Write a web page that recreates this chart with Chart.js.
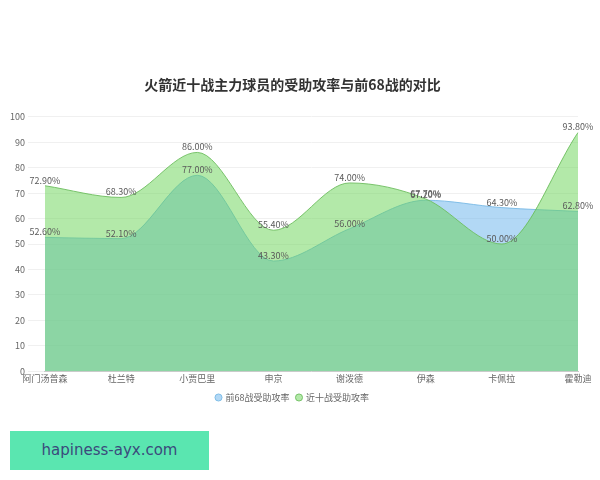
<!DOCTYPE html>
<html lang="zh">
<head>
    <meta charset="UTF-8">
    <title>火箭近十战主力球员的受助攻率与前68战的对比</title>
    <script src="https://cdn.jsdelivr.net/npm/chart.js"></script>
    <style>
        html, body { margin: 0; padding: 0; background: #fff; }
        #wrap { position: relative; width: 600px; height: 416px; }
        .mark {
            position: absolute; left: 10px; top: 431px; width: 199px; height: 39px;
            background: #5ae6b0; color: #3b4a7c;
            font: 15px "DejaVu Sans", sans-serif; line-height: 39px; text-align: center;
        }
    </style>
</head>
<body>
    <div id="wrap"><canvas id="assistChart"></canvas></div>
    <div class="mark">hapiness-ayx.com</div>
    <script>
        const players = ['阿门汤普森', '杜兰特', '小贾巴里', '申京', '谢泼德', '伊森', '卡佩拉', '霍勒迪'];
        const first68 = [52.6, 52.1, 77.0, 43.3, 56.0, 67.2, 64.3, 62.8];
        const last10 = [72.9, 68.3, 86.0, 55.4, 74.0, 67.7, 50.0, 93.8];
        const yTicks = [0, 10, 20, 30, 40, 50, 60, 70, 80, 90, 100];

        const fontFamily = '"Noto Sans CJK SC", "DejaVu Sans", sans-serif';

        // draws the value above each point
        const valueLabels = {
            id: 'valueLabels',
            afterDatasetsDraw(chart) {
                const c = chart.ctx;
                c.save();
                c.font = '9px ' + fontFamily;
                c.fillStyle = '#5a5a5a';
                c.textAlign = 'center';
                c.textBaseline = 'bottom';
                chart.data.datasets.forEach((ds, i) => {
                    chart.getDatasetMeta(i).data.forEach((pt, j) => {
                        c.fillText(ds.data[j].toFixed(2) + '%', pt.x, pt.y - 1);
                    });
                });
                c.restore();
            }
        };

        const ctx = document.getElementById('assistChart').getContext('2d');
        new Chart(ctx, {
            type: 'line',
            data: {
                labels: players,
                datasets: [{
                    label: '前68战受助攻率',
                    data: first68,
                    backgroundColor: 'rgba(101, 177, 235, 0.5)',
                    borderColor: 'rgba(120, 185, 230, 0.9)',
                    borderWidth: 1,
                    fill: 'origin',
                    cubicInterpolationMode: 'monotone',
                    pointRadius: 0,
                    order: 1
                }, {
                    label: '近十战受助攻率',
                    data: last10,
                    backgroundColor: 'rgba(103, 211, 83, 0.5)',
                    borderColor: 'rgba(110, 190, 95, 0.9)',
                    borderWidth: 1,
                    fill: 'origin',
                    cubicInterpolationMode: 'monotone',
                    pointRadius: 0,
                    order: 0
                }]
            },
            options: {
                responsive: true,
                maintainAspectRatio: false,
                animation: false,
                layout: { padding: { left: 7, right: 22, top: 0, bottom: 4 } },
                plugins: {
                    title: {
                        display: true,
                        text: '火箭近十战主力球员的受助攻率与前68战的对比',
                        color: '#333',
                        font: { family: fontFamily, size: 14, weight: 'bold' },
                        padding: { top: 76, bottom: 24 }
                    },
                    legend: {
                        position: 'bottom',
                        labels: {
                            usePointStyle: true,
                            pointStyle: 'circle',
                            boxWidth: 5,
                            boxHeight: 5,
                            color: '#666',
                            padding: 7,
                            font: { family: fontFamily, size: 9 },
                            sort: (a, b) => a.datasetIndex - b.datasetIndex
                        }
                    },
                    tooltip: { enabled: false }
                },
                scales: {
                    x: {
                        offset: false,
                        grid: { display: false, drawTicks: false },
                        border: { color: '#ccc' },
                        ticks: {
                            color: '#666', padding: 2, maxRotation: 0, autoSkip: false,
                            font: { family: fontFamily, size: 9 }
                        }
                    },
                    y: {
                        min: 0,
                        max: 100,
                        afterBuildTicks: axis => { axis.ticks = yTicks.map(v => ({ value: v })); },
                        grid: { color: '#f0f0f0', tickLength: 17 },
                        border: { display: false },
                        ticks: {
                            color: '#666', padding: 3,
                            font: { family: fontFamily, size: 9 }
                        }
                    }
                }
            },
            plugins: [valueLabels]
        });
    </script>
</body>
</html>
